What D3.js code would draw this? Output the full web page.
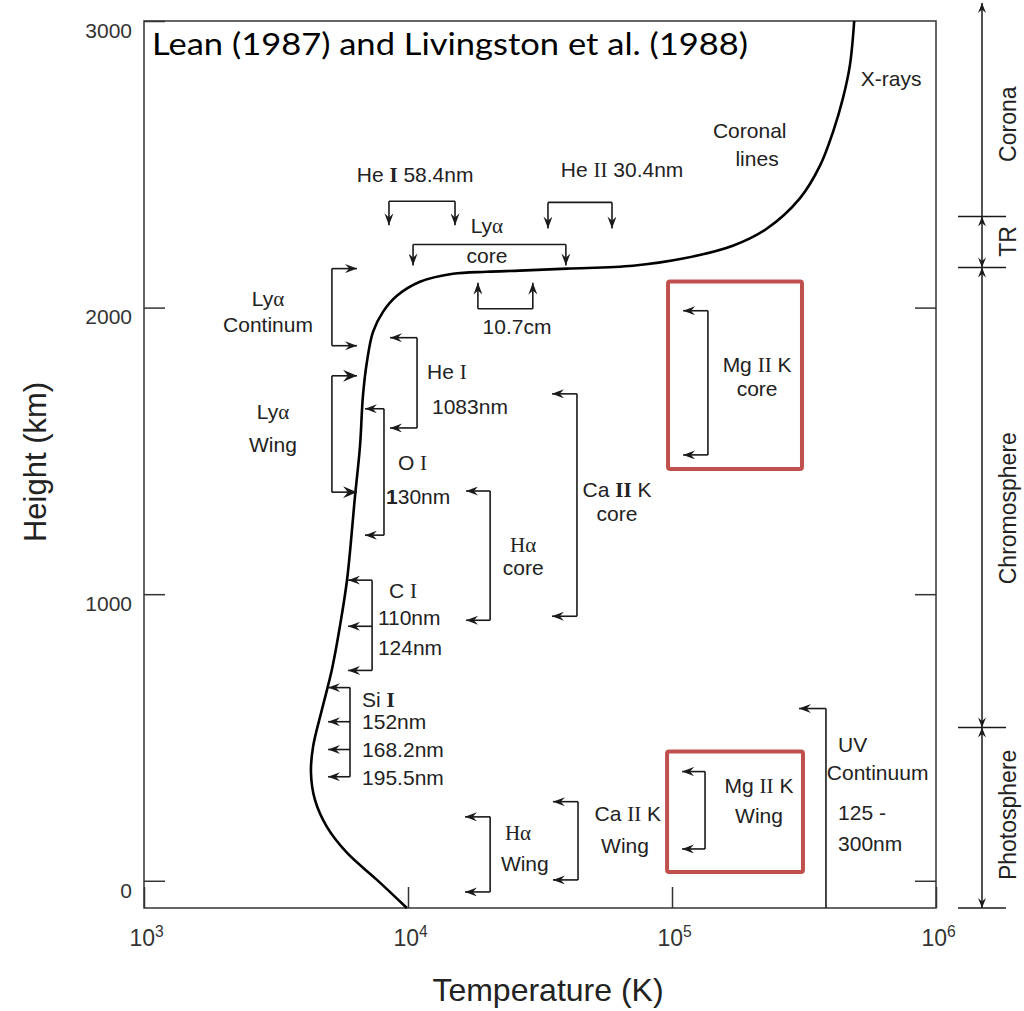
<!DOCTYPE html>
<html>
<head>
<meta charset="utf-8">
<script src="https://cdn.jsdelivr.net/npm/d3@7"></script>
<style>
body { margin: 0; background: #fff; }
svg { display: block; font-family: "Liberation Sans", Arial, Helvetica, sans-serif; }
.serif { font-family: "Liberation Serif", "Times New Roman", serif; }
</style>
</head>
<body>
<svg id="chart" width="1024" height="1011"></svg>
<script>
// temperature profile: T (K) vs height (km)
var profileT = [9900, 7630, 5880, 4930, 4440, 4290, 4370, 4720, 5150, 5520, 5880, 6300, 6580, 6750, 6990, 7370, 8040, 9080, 11100, 14800, 19900, 26500, 40000, 71100, 110000, 170000, 229000, 305000, 364000, 408000, 444000, 472000, 490000];
var profileH = [-95, 3, 97, 188, 283, 377, 468, 597, 737, 887, 1052, 1342, 1517, 1692, 1811, 1915, 1985, 2041, 2090, 2118, 2125, 2129, 2136, 2146, 2171, 2216, 2276, 2381, 2496, 2615, 2730, 2846, 3000];

var xTicks = [1e3, 1e4, 1e5, 1e6];
var yTicks = [0, 1000, 2000, 3000];

// vertical brackets: spine T, arrow tip T, arrow heights (km)
var vBrackets = [
	{spine: 5150, tip: 6410, at: [2136, 1867]},          // Lya continuum
	{spine: 5150, tip: 6410, at: [1762, 1356], big: true}, // Lya wing
	{spine: 10820, tip: 8550, at: [1895, 1580]},         // He I 1083
	{spine: 8110, tip: 6870, at: [1647, 1206]},          // O I
	{spine: 7310, tip: 5930, at: [1049, 888, 734]},      // C I
	{spine: 6030, tip: 4980, at: [674, 555, 458, 363]},  // Si I
	{spine: 20470, tip: 16600, at: [1360, 909]},         // Ha core
	{spine: 43650, tip: 35100, at: [1699, 923]},         // Ca II K core
	{spine: 136800, tip: 110200, at: [1989, 1486]},      // Mg II K core
	{spine: 133400, tip: 109200, at: [381, 111]},        // Mg II K wing
	{spine: 44060, tip: 35400, at: [276, 3]},            // Ca II K wing
	{spine: 20470, tip: 16440, at: [223, -39]},          // Ha wing
	{spine: 383000, tip: 302600, at: [601], down: -95}   // UV continuum
];

// horizontal brackets: bar height, arrow tip height, arrow temperatures
var hBrackets = [
	{bar: 2371, tip: 2287, at: [8470, 15070]},   // He I 58.4nm
	{bar: 2367, tip: 2276, at: [33900, 59250]},  // He II 30.4nm
	{bar: 2220, tip: 2147, at: [10450, 39630]},  // Lya core
	{bar: 1996, tip: 2087, at: [18400, 29700]}   // 10.7cm
];

// highlighted boxes: T from, T to, h top, h bottom
var boxes = [
	[96600, 310700, 2091, 1437],
	[95800, 313400, 451, 31]
];

// label text ({..} serif, [..] serif bold, <..> bold), T, h, anchor
var labels = [
	["He [I] 58.4nm", 10640, 2465, "middle"],
	["He {II} 30.4nm", 64700, 2482, "middle"],
	["Ly{α}", 19900, 2287, "middle"],
	["core", 19900, 2182, "middle"],
	["10.7cm", 25880, 1933, "middle"],
	["Coronal", 197000, 2619, "middle"],
	["lines", 210000, 2521, "middle"],
	["X-rays", 676000, 2801, "middle"],
	["Ly{α}", 2950, 2031, "middle"],
	["Continum", 2950, 1940, "middle"],
	["Ly{α}", 3080, 1636, "middle"],
	["Wing", 3080, 1524, "middle"],
	["He {I}", 11800, 1776, "start"],
	["1083nm", 12330, 1654, "start"],
	["O {I}", 9160, 1461, "start"],
	["<1>30nm", 8260, 1342, "start"],
	["C {I}", 8470, 1014, "start"],
	["110nm", 7690, 919, "start"],
	["124nm", 7690, 814, "start"],
	["Si [I]", 6700, 632, "start"],
	["152nm", 6700, 555, "start"],
	["168.2nm", 6700, 458, "start"],
	["195.5nm", 6700, 360, "start"],
	["{Hα}", 27300, 1175, "middle"],
	["core", 27300, 1094, "middle"],
	["Ca [II] K", 61900, 1367, "middle"],
	["core", 61900, 1283, "middle"],
	["Mg {II} K", 210000, 1800, "middle"],
	["core", 210000, 1717, "middle"],
	["Mg {II} K", 213600, 332, "middle"],
	["Wing", 213600, 227, "middle"],
	["Ca {II} K", 68000, 234, "middle"],
	["Wing", 66400, 122, "middle"],
	["{Hα}", 26100, 167, "middle"],
	["Wing", 27700, 62, "middle"],
	["UV", 425600, 475, "start"],
	["Continuum", 386000, 377, "start"],
	["125 -", 425600, 237, "start"],
	["300nm", 425600, 132, "start"]
];

// atmosphere layers on the right
var layerNames = ["Photosphere", "Chromosphere", "TR", "Corona"];
var layerEdges = [-95, 535, 2140, 2318, 3063];
var layerLabelH = [230, 1300, 2231, 2640];

var svg = d3.select("#chart");

var x = d3.scaleLog().domain([1e3, 1e6]).range([144, 936]);
var y = d3.scaleLinear().domain([-95, 3000]).range([908, 21]);

var ink = "#1a1a1a";

// arrow heads
var defs = svg.append("defs");
function marker(id, len, half) {
	defs.append("marker")
		.attr("id", id)
		.attr("viewBox", [-len, -half, len, half * 2].join(" "))
		.attr("markerUnits", "userSpaceOnUse")
		.attr("markerWidth", len)
		.attr("markerHeight", half * 2)
		.attr("refX", 0)
		.attr("refY", 0)
		.attr("orient", "auto-start-reverse")
		.append("path")
		.attr("d", "M0,0L" + (-len) + "," + (-half) + "L" + (-len * 0.65) + ",0L" + (-len) + "," + half + "Z")
		.attr("fill", ink);
}
marker("ah", 12, 4.5);
marker("ahBig", 14, 6);
marker("ahSmall", 10, 4);

// axes
var yAxis = svg.append("g")
	.attr("transform", "translate(" + x(1e3) + ",0)")
	.call(d3.axisLeft(y).tickValues(yTicks).tickFormat(d3.format("d")).tickSizeInner(-21).tickSizeOuter(0).tickPadding(12));
yAxis.selectAll("text").attr("dy", "0.78em").attr("font-size", 21).attr("fill", "#333").attr("font-family", null);

svg.append("g")
	.attr("transform", "translate(" + x(1e6) + ",0)")
	.call(d3.axisRight(y).tickValues([0, 1000, 2000]).tickSizeInner(-21).tickSizeOuter(0).tickFormat(""));

var xAxis = svg.append("g")
	.attr("transform", "translate(0," + y(-95) + ")")
	.call(d3.axisBottom(x).tickValues(xTicks).tickSizeInner(-21).tickSizeOuter(0).tickPadding(22));
xAxis.selectAll("text")
	.text(null)
	.attr("text-anchor", "start")
	.attr("x", -15)
	.attr("font-size", 23)
	.attr("fill", "#333")
	.attr("font-family", null)
	.each(function(d) {
		var t = d3.select(this);
		t.append("tspan").text("10");
		t.append("tspan").attr("dy", "-0.6em").attr("font-size", "0.68em").text(Math.round(Math.log10(d)));
	});

svg.selectAll(".domain").remove();
svg.selectAll(".tick line").attr("stroke", "#333").attr("stroke-width", 1.5);

// frame
svg.append("rect")
	.attr("x", x(1e3))
	.attr("y", y(3000))
	.attr("width", x(1e6) - x(1e3))
	.attr("height", y(-95) - y(3000))
	.attr("fill", "none")
	.attr("stroke", "#333")
	.attr("stroke-width", 1.5);

// temperature curve
var line = d3.line()
	.x(function(d) { return x(d[0]); })
	.y(function(d) { return y(d[1]); })
	.curve(d3.curveCatmullRom);

svg.append("path")
	.datum(d3.zip(profileT, profileH))
	.attr("d", line)
	.attr("fill", "none")
	.attr("stroke", "#000")
	.attr("stroke-width", 2.6);

// brackets
var br = svg.append("g")
	.attr("stroke", ink)
	.attr("stroke-width", 1.6)
	.attr("fill", "none");

vBrackets.forEach(function(b) {
	var sx = x(b.spine), tx = x(b.tip);
	var top = d3.max(b.at), bot = b.down !== undefined ? b.down : d3.min(b.at);
	br.append("line")
		.attr("x1", sx).attr("x2", sx)
		.attr("y1", y(top)).attr("y2", y(bot));
	b.at.forEach(function(h) {
		br.append("line")
			.attr("x1", sx).attr("x2", tx)
			.attr("y1", y(h)).attr("y2", y(h))
			.attr("marker-end", b.big ? "url(#ahBig)" : "url(#ah)");
	});
});

hBrackets.forEach(function(b) {
	var by = y(b.bar), ty = y(b.tip);
	br.append("line")
		.attr("x1", x(d3.min(b.at))).attr("x2", x(d3.max(b.at)))
		.attr("y1", by).attr("y2", by);
	b.at.forEach(function(t) {
		br.append("line")
			.attr("x1", x(t)).attr("x2", x(t))
			.attr("y1", by).attr("y2", ty)
			.attr("marker-end", "url(#ah)");
	});
});

// red highlight boxes
svg.selectAll(".box")
	.data(boxes)
	.enter()
	.append("rect")
	.attr("class", "box")
	.attr("x", function(d) { return x(d[0]); })
	.attr("y", function(d) { return y(d[2]); })
	.attr("width", function(d) { return x(d[1]) - x(d[0]); })
	.attr("height", function(d) { return y(d[3]) - y(d[2]); })
	.attr("rx", 2)
	.attr("fill", "none")
	.attr("stroke", "#c0504d")
	.attr("stroke-width", 4);

// annotation text
function rich(sel, str) {
	str.split(/(\{[^}]*\}|\[[^\]]*\]|<[^>]*>|α)/).forEach(function(part) {
		if (!part) return;
		var ts = sel.append("tspan");
		var c = part[0];
		if (c == "{") ts.attr("class", "serif").text(part.slice(1, -1));
		else if (c == "[") ts.attr("class", "serif").attr("font-weight", "bold").text(part.slice(1, -1));
		else if (c == "<") ts.attr("font-weight", "bold").text(part.slice(1, -1));
		else if (part == "α") ts.attr("class", "serif").text(part);
		else ts.text(part);
	});
}

svg.append("g")
	.selectAll("text")
	.data(labels)
	.enter()
	.append("text")
	.attr("x", function(d) { return x(d[1]); })
	.attr("y", function(d) { return y(d[2]); })
	.attr("dy", "0.36em")
	.attr("text-anchor", function(d) { return d[3]; })
	.attr("font-size", 21)
	.attr("fill", "#222")
	.each(function(d) { rich(d3.select(this), d[0]); });

// layer brackets on the right
var lx = x(1e6) + 46;
var lay = svg.append("g").attr("stroke", ink).attr("stroke-width", 1.5).attr("fill", "none");
layerNames.forEach(function(name, i) {
	var l = lay.append("line")
		.attr("x1", lx).attr("x2", lx)
		.attr("y1", y(layerEdges[i])).attr("y2", y(layerEdges[i + 1]))
		.attr("marker-end", "url(#ahSmall)");
	if (name != "Corona") l.attr("marker-start", "url(#ahSmall)");
});
layerEdges.slice(0, 4).forEach(function(h) {
	lay.append("line")
		.attr("x1", lx - 24).attr("x2", lx + 24)
		.attr("y1", y(h)).attr("y2", y(h));
});
svg.append("g")
	.selectAll("text")
	.data(layerNames)
	.enter()
	.append("text")
	.attr("transform", function(d, i) { return "translate(" + (lx + 34) + "," + y(layerLabelH[i]) + ") rotate(-90)"; })
	.attr("text-anchor", "middle")
	.attr("font-size", 23)
	.attr("fill", "#222")
	.text(function(d) { return d; });

// axis titles
svg.append("text")
	.attr("transform", "translate(46,462) rotate(-90)")
	.attr("text-anchor", "middle")
	.attr("font-size", 31)
	.attr("fill", "#222")
	.text("Height (km)");

svg.append("text")
	.attr("x", (x(1e3) + x(1e6)) / 2 + 8)
	.attr("y", 1001)
	.attr("text-anchor", "middle")
	.attr("font-size", 32)
	.attr("fill", "#222")
	.text("Temperature (K)");

// source note
svg.append("text")
	.attr("x", 152)
	.attr("y", 55)
	.attr("font-family", "Lato, 'Open Sans', sans-serif")
	.attr("font-size", 30)
	.attr("textLength", 596)
	.attr("lengthAdjust", "spacingAndGlyphs")
	.attr("fill", "#000")
	.text("Lean (1987) and Livingston et al. (1988)");
</script>
</body>
</html>
